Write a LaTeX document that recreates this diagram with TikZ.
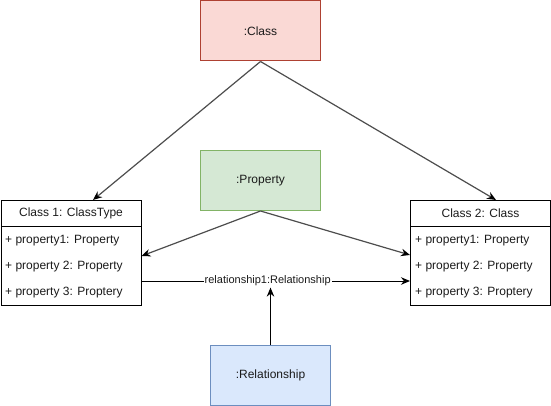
\documentclass[tikz,border=0pt]{standalone}
\usepackage{fontspec}
\setmainfont{Liberation Sans}
\usetikzlibrary{arrows.meta,calc}
\definecolor{redfill}{HTML}{FAD9D5}
\definecolor{redline}{HTML}{AE4132}
\definecolor{greenfill}{HTML}{D5E8D4}
\definecolor{greenline}{HTML}{82B366}
\definecolor{bluefill}{HTML}{DAE8FC}
\definecolor{blueline}{HTML}{6C8EBF}
\definecolor{edgegray}{HTML}{4D4D4D}
\definecolor{txt}{HTML}{1A1A1A}
\begin{document}
\begin{tikzpicture}[x=1pt,y=-1pt,
  every node/.style={font=\fontsize{12}{14}\selectfont, text=txt, inner sep=0pt},
  objbox/.style={draw, line width=1pt, minimum width=120pt, minimum height=60pt, anchor=north west},
  hdrbox/.style={draw=black, line width=1pt, minimum width=140pt, minimum height=26pt, anchor=north west},
  bodybox/.style={draw=black, line width=1pt, minimum width=140pt, minimum height=79pt, anchor=north west},
  rowtext/.style={anchor=west},
  grayarrow/.style={draw=edgegray, line width=1.2pt, -{Stealth[length=9pt,width=7.5pt,color=black]}},
  blackarrow/.style={draw=black, line width=1pt, -{Stealth[length=9pt,width=7.5pt,color=black]}},
  edgelabel/.style={fill=white, inner sep=1pt, font=\fontsize{11}{13}\selectfont}
]
\useasboundingbox (0,0) rectangle (551,406);
% object boxes
\node[objbox, fill=redfill, draw=redline] (cls) at (200,0.5) {:Class};
\node[objbox, fill=greenfill, draw=greenline] (prop) at (200,150) {:Property};
\node[objbox, fill=bluefill, draw=blueline] (rel) at (210,345) {:Relationship};
% class 1
\node[bodybox] (c1b) at (0.5,226) {};
\node[hdrbox] (c1h) at (0.5,200) {Class 1: ClassType};
\node[rowtext] (c1r1) at (5,241) {+ property1: Property};
\node[rowtext] (c1r2) at (5,267) {+ property 2: Property};
\node[rowtext] (c1r3) at (5,293) {+ property 3: Proptery};
% class 2
\node[bodybox] (c2b) at (410,226) {};
\node[hdrbox] (c2h) at (410,200) {Class 2: Class};
\node[rowtext] (c2r1) at (415,241) {+ property1: Property};
\node[rowtext] (c2r2) at (415,267) {+ property 2: Property};
\node[rowtext] (c2r3) at (415,293) {+ property 3: Proptery};
% anchor points
\coordinate (t1) at ($(c1h.north west)+(92.5,0)$);
\coordinate (t2) at ($(c2h.north west)+(86,0)$);
\coordinate (p1) at ($(c1b.north east)+(0,30)$);
\coordinate (p2) at ($(c2b.north west)+(0,29)$);
\coordinate (r1) at ($(c1b.north east)+(0,55)$);
\coordinate (r2) at ($(c2b.north west)+(0,55)$);
% edges
\draw[grayarrow] (cls.south) -- (t1);
\draw[grayarrow] (cls.south) -- (t2);
\draw[grayarrow] (prop.south) -- (p1);
\draw[grayarrow] (prop.south) -- (p2);
\draw[blackarrow] (r1) -- node[edgelabel, pos=0.47] (rl) {relationship1:Relationship} (r2);
\draw[blackarrow] (rel.north) -- (rel.north |- rl.south);
\end{tikzpicture}
\end{document}
